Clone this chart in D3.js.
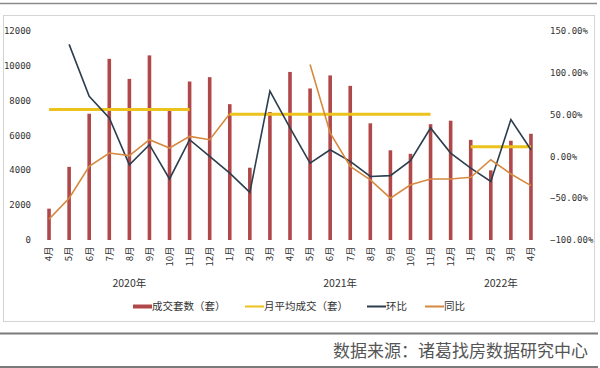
<!DOCTYPE html>
<html>
<head>
<meta charset="utf-8">
<script src="https://cdnjs.cloudflare.com/ajax/libs/d3/7.8.5/d3.min.js"></script>
<style>
  body { margin: 0; background: #fff; }
  svg { display: block; }
</style>
</head>
<body>
<script>
// months from 2020-04 to 2022-04
var months = ["4月","5月","6月","7月","8月","9月","10月","11月","12月",
              "1月","2月","3月","4月","5月","6月","7月","8月","9月","10月","11月","12月",
              "1月","2月","3月","4月"];
var years = [
  {label: "2020年", from: 0, to: 8},
  {label: "2021年", from: 9, to: 20},
  {label: "2022年", from: 21, to: 24}
];
// 成交套数（套）
var volume = [1800, 4200, 7250, 10400, 9250, 10600, 7450, 9100, 9350,
              7800, 4150, 7350, 9650, 8700, 9450, 8850, 6700, 5150, 4950, 6650, 6850,
              5750, 4000, 5700, 6100];
// 月平均成交（套），only drawn over the months it covers
var monthAvg = [7500, 7500, 7500, 7500, 7500, 7500, 7500, 7500, null,
                7220, 7220, 7220, 7220, 7220, 7220, 7220, 7220, 7220, 7220, 7220, null,
                5350, 5350, 5350, 5350];
// 环比
var mom = [null, 1.34, 0.72, 0.46, -0.10, 0.14, -0.27, 0.20, 0.00,
           -0.20, -0.43, 0.78, 0.34, -0.08, 0.08, -0.06, -0.24, -0.23, -0.05, 0.34, 0.04,
           -0.14, -0.30, 0.44, 0.08];
// 同比
var yoy = [-0.75, -0.50, -0.12, 0.04, 0.01, 0.20, 0.10, 0.24, 0.20,
           0.51, null, null, null, 1.10, 0.28, -0.12, -0.28, -0.50, -0.34, -0.27, -0.27,
           -0.25, -0.04, -0.21, -0.35];
var leftTicks = [0, 2000, 4000, 6000, 8000, 10000, 12000];
var rightTicks = [-1, -0.5, 0, 0.5, 1, 1.5];
var legendItems = [
  {label: "成交套数（套）", color: "#b0484a", w: 4},
  {label: "月平均成交（套）", color: "#ecc31c", w: 2},
  {label: "环比", color: "#2c3e4e", w: 2},
  {label: "同比", color: "#d58a40", w: 2}
];

var width = 600, height = 368;
var numFont = "'DejaVu Sans Mono', monospace";
var cjkFont = "'Noto Sans CJK SC', sans-serif";

var svg = d3.select("body").append("svg")
    .attr("width", width)
    .attr("height", height);

// page frame
svg.append("line").attr("x1", 0).attr("x2", 597).attr("y1", 3.5).attr("y2", 3.5)
    .attr("stroke", "#8a8a8a").attr("stroke-width", 1.5);
svg.append("rect").attr("x", 3.5).attr("y", 15.5).attr("width", 591).attr("height", 306)
    .attr("fill", "#fff").attr("stroke", "#d4d4d4");
svg.append("line").attr("x1", 0).attr("x2", 598).attr("y1", 333.5).attr("y2", 333.5)
    .attr("stroke", "#7a7a7a").attr("stroke-width", 2);
svg.append("line").attr("x1", 0).attr("x2", 598).attr("y1", 367).attr("y2", 367)
    .attr("stroke", "#7a7a7a").attr("stroke-width", 2);

var x = d3.scaleBand().domain(d3.range(months.length)).range([39, 541]);
var cx = function(i) { return x(i) + x.bandwidth() / 2; };
var yL = d3.scaleLinear().domain([0, 12000]).range([240, 31]);
var yR = d3.scaleLinear().domain([-1, 1.5]).range([240, 31]);

// left axis labels
svg.append("g").selectAll("text").data(leftTicks).enter().append("text")
    .attr("x", 31).attr("y", d => yL(d)).attr("dy", "0.35em")
    .attr("text-anchor", "end")
    .style("font-family", numFont).style("font-size", "9px").attr("fill", "#333")
    .text(d => d);

// right axis labels
svg.append("g").selectAll("text").data(rightTicks).enter().append("text")
    .attr("x", 550).attr("y", d => yR(d)).attr("dy", "0.35em")
    .style("font-family", numFont).style("font-size", "9px").attr("fill", "#333")
    .text(d => d3.format(".2f")(d * 100) + "%");

// bars
svg.append("g").selectAll("rect").data(volume).enter().append("rect")
    .attr("x", (d, i) => cx(i) - 1.8)
    .attr("width", 3.6)
    .attr("y", d => yL(d))
    .attr("height", d => yL(0) - yL(d))
    .attr("fill", "#b0484a");

// lines
var avgLine = d3.line().defined(d => d != null)
    .x((d, i) => cx(i)).y(d => yL(d));
var pctLine = d3.line().defined(d => d != null)
    .x((d, i) => cx(i)).y(d => yR(d));

svg.append("path").datum(monthAvg).attr("d", avgLine)
    .attr("fill", "none").attr("stroke", "#ecc31c").attr("stroke-width", 3);
svg.append("path").datum(mom).attr("d", pctLine)
    .attr("fill", "none").attr("stroke", "#2c3e4e").attr("stroke-width", 1.6);
svg.append("path").datum(yoy).attr("d", pctLine)
    .attr("fill", "none").attr("stroke", "#d58a40").attr("stroke-width", 1.6);

// month labels, rotated
svg.append("g").selectAll("text").data(months).enter().append("text")
    .attr("transform", (d, i) => "translate(" + cx(i) + ",246.5) rotate(-90)")
    .attr("text-anchor", "end").attr("dy", "0.35em")
    .style("font-family", cjkFont).style("font-size", "9.5px").attr("fill", "#333")
    .text(d => d);

// year labels
svg.append("g").selectAll("text").data(years).enter().append("text")
    .attr("x", d => (cx(d.from) + cx(d.to)) / 2).attr("y", 283).attr("dy", "0.35em")
    .attr("text-anchor", "middle")
    .style("font-family", cjkFont).style("font-size", "10.5px").attr("fill", "#333")
    .text(d => d.label);

// legend
var legendX = [133, 245, 367, 425];
var lg = svg.append("g").selectAll("g").data(legendItems).enter().append("g")
    .attr("transform", (d, i) => "translate(" + legendX[i] + ",306.5)");
lg.append("rect").attr("x", 0).attr("y", d => -d.w / 2).attr("width", 19).attr("height", d => d.w)
    .attr("fill", d => d.color);
lg.append("text").attr("x", 19).attr("dy", "0.35em")
    .style("font-family", cjkFont).style("font-size", "10.5px").attr("fill", "#333")
    .text(d => d.label);

// source note
svg.append("text").attr("x", 588).attr("y", 351).attr("dy", "0.35em")
    .attr("text-anchor", "end")
    .style("font-family", cjkFont).style("font-size", "17px").attr("fill", "#555")
    .text("数据来源：诸葛找房数据研究中心");
</script>
</body>
</html>
